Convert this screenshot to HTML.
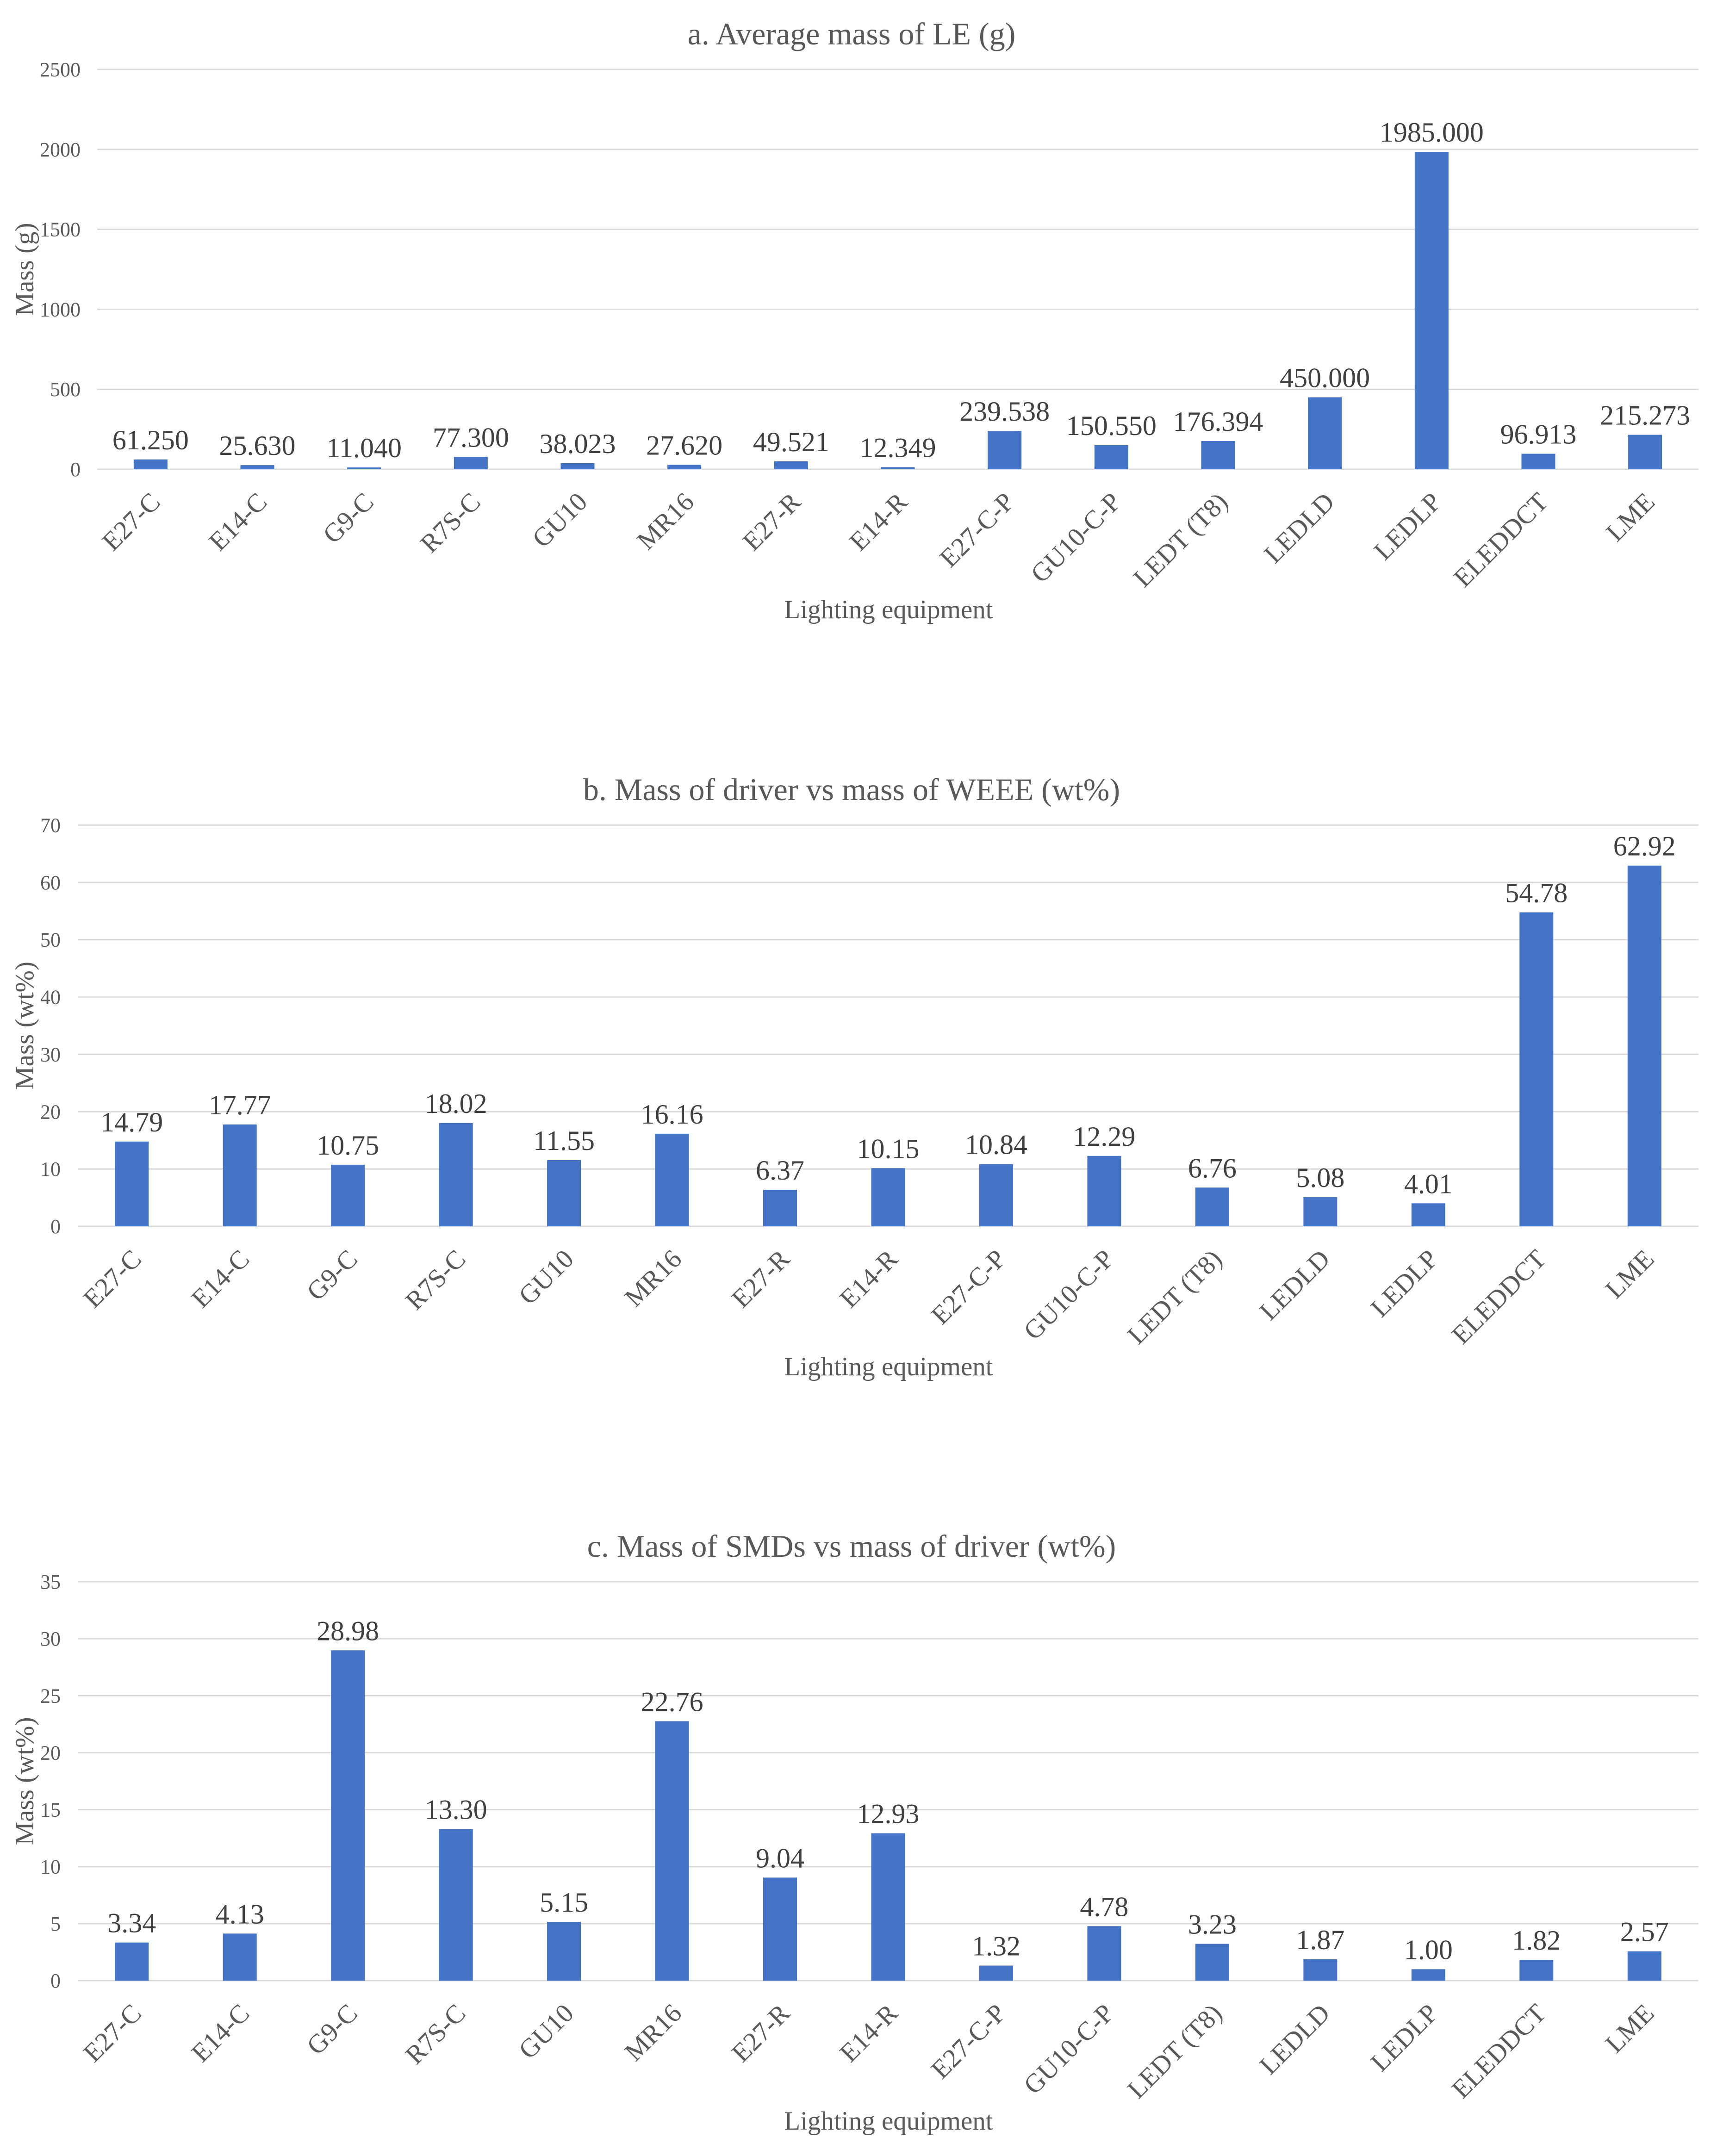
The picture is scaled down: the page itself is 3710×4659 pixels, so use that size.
<!DOCTYPE html>
<html><head><meta charset="utf-8">
<style>
html,body{margin:0;padding:0;background:#fff;}
svg{display:block;}
text{font-family:"Liberation Serif","Times New Roman",serif;}
</style></head>
<body>
<svg id="fig" xmlns="http://www.w3.org/2000/svg" width="3710" height="4659" viewBox="0 0 3710 4659"></svg>
<script>
const categories = ["E27-C","E14-C","G9-C","R7S-C","GU10","MR16","E27-R","E14-R","E27-C-P","GU10-C-P","LEDT (T8)","LEDLD","LEDLP","ELEDDCT","LME"];
const valuesA = [61.250,25.630,11.040,77.300,38.023,27.620,49.521,12.349,239.538,150.550,176.394,450.000,1985.000,96.913,215.273];
const labelsA = ["61.250","25.630","11.040","77.300","38.023","27.620","49.521","12.349","239.538","150.550","176.394","450.000","1985.000","96.913","215.273"];
const ticksA = [0,500,1000,1500,2000,2500];
const valuesB = [14.79,17.77,10.75,18.02,11.55,16.16,6.37,10.15,10.84,12.29,6.76,5.08,4.01,54.78,62.92];
const labelsB = ["14.79","17.77","10.75","18.02","11.55","16.16","6.37","10.15","10.84","12.29","6.76","5.08","4.01","54.78","62.92"];
const ticksB = [0,10,20,30,40,50,60,70];
const valuesC = [3.34,4.13,28.98,13.30,5.15,22.76,9.04,12.93,1.32,4.78,3.23,1.87,1.00,1.82,2.57];
const labelsC = ["3.34","4.13","28.98","13.30","5.15","22.76","9.04","12.93","1.32","4.78","3.23","1.87","1.00","1.82","2.57"];
const ticksC = [0,5,10,15,20,25,30,35];

const NS = "http://www.w3.org/2000/svg";
const svg = document.getElementById('fig');
function mk(tag, attrs, parent){
  const e = document.createElementNS(NS, tag);
  for (const k in attrs) e.setAttribute(k, attrs[k]);
  (parent||svg).appendChild(e);
  return e;
}

function chart(cfg){
  const g = mk('g', {});
  
  
  const x0 = cfg.left, x1 = 3670;
  const n = categories.length;
  const step = (x1 - x0) / n;
  const maxV = cfg.ticks[cfg.ticks.length-1];
  const yS = v => cfg.zero - (v / maxV) * (cfg.zero - cfg.top);
  const xS = i => x0 + step * (i + 0.5);
  const t = mk('text', {x:1840, y:cfg.top-54, 'font-size':68, fill:'#595959', 'text-anchor':'middle'}, g);
  t.textContent = cfg.title;
  
  
  cfg.ticks.forEach(v => {
    const y = yS(v);
    const l = mk('line', {x1:x0, x2:x1, y1:y, y2:y, stroke:'#d9d9d9', 'stroke-width':3}, g);
    
    
    const tl = mk('text', {x:cfg.tickX, y:y+15, 'font-size':44, fill:'#595959', 'text-anchor':'end'}, g);
    tl.textContent = String(v);
    
    
  });
  const cy = (cfg.top + cfg.zero) / 2;
  const yt = mk('text', {x:0, y:0, 'font-size':57, fill:'#595959', 'text-anchor':'middle', transform:`translate(72,${cy}) rotate(-90)`}, g);
  yt.textContent = cfg.ytitle;
  
  
  const bw = 73;
  cfg.values.forEach((v, i) => {
    const cx = xS(i);
    const y = yS(v);
    const r = mk('rect', {x:cx-bw/2, y:y, width:bw, height:Math.max(cfg.zero - y, 1), fill:'#4472c4'}, g);
    
    
    const dl = mk('text', {x:cx, y:y-22, 'font-size':60, fill:'#404040', 'text-anchor':'middle'}, g);
    dl.textContent = cfg.labels[i];
    
    
    const bx = cx + 24, by = cfg.zero + 74;
    const cl = mk('text', {x:0, y:0, 'font-size':57, fill:'#595959', 'text-anchor':'end', transform:`translate(${bx},${by}) rotate(-45)`}, g);
    cl.textContent = categories[i];
    
    
  });
  const xt = mk('text', {x:1920, y:cfg.zero+322, 'font-size':57, fill:'#595959', 'text-anchor':'middle'}, g);
  xt.textContent = 'Lighting equipment';
  
  
}

chart({id:'chart-a-average-mass', title:'a. Average mass of LE (g)', ytitle:'Mass (g)', top:150, zero:1014, left:210, tickX:174, ticks:ticksA, values:valuesA, labels:labelsA});
chart({id:'chart-b-driver-vs-weee', title:'b. Mass of driver vs mass of WEEE (wt%)', ytitle:'Mass (wt%)', top:1783, zero:2650, left:168, tickX:131, ticks:ticksB, values:valuesB, labels:labelsB});
chart({id:'chart-c-smds-vs-driver', title:'c. Mass of SMDs vs mass of driver (wt%)', ytitle:'Mass (wt%)', top:3418, zero:4280, left:168, tickX:131, ticks:ticksC, values:valuesC, labels:labelsC});
</script>
</body></html>
